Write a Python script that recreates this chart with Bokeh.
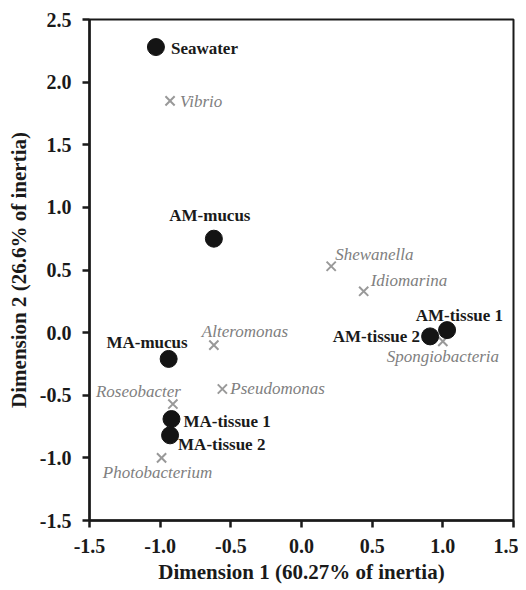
from bokeh.plotting import figure
from bokeh.models import ColumnDataSource, Range1d, FixedTicker
from bokeh.core.properties import value
from bokeh.embed import file_html
from bokeh.resources import INLINE

# Sample (row) coordinates
sample_names = ["Seawater", "AM-mucus", "MA-mucus", "MA-tissue 1", "MA-tissue 2", "AM-tissue 1", "AM-tissue 2"]
sample_dim1 = [-1.03, -0.62, -0.94, -0.92, -0.93, 1.03, 0.91]
sample_dim2 = [2.28, 0.75, -0.21, -0.69, -0.82, 0.02, -0.03]

# Taxon (column) coordinates
taxon_names = ["Vibrio", "Shewanella", "Idiomarina", "Spongiobacteria", "Alteromonas", "Pseudomonas", "Roseobacter", "Photobacterium"]
taxon_dim1 = [-0.93, 0.21, 0.44, 1.00, -0.62, -0.56, -0.91, -0.99]
taxon_dim2 = [1.85, 0.53, 0.33, -0.07, -0.10, -0.45, -0.57, -1.00]

x_ticks = [-1.5, -1.0, -0.5, 0.0, 0.5, 1.0, 1.5]
y_ticks = [-1.5, -1.0, -0.5, 0.0, 0.5, 1.0, 1.5, 2.0, 2.5]

# label placement (screen pixel offsets, alignment)
sample_xoff = [15, -4, 19, 12, 8, 56, -10]
sample_yoff = [1, -23, -16, 2, 9, -15, 0]
sample_align = ["left", "center", "right", "left", "left", "right", "right"]
taxon_xoff = [10, 4, 7, 0, -12, 8, 8, -4]
taxon_yoff = [1, -12, -11, 15, -14, 0, -13, 15]
taxon_align = ["left", "left", "left", "center", "left", "left", "right", "center"]

FONT = "Liberation Serif"
AXFONT = "'Liberation Serif', 'Times New Roman', serif"

p = figure(width=518, height=590, output_backend="svg", toolbar_location=None,
           x_range=Range1d(-1.5, 1.5), y_range=Range1d(-1.5, 2.5),
           min_border_left=89, min_border_right=5, min_border_top=19, min_border_bottom=70)
p.grid.visible = False
p.outline_line_color = "#1a1a1a"
p.outline_line_width = 2
p.background_fill_color = "white"
p.border_fill_color = "white"

for ax in (p.xaxis[0], p.yaxis[0]):
    ax.axis_line_width = 2.5
    ax.axis_line_color = "#1a1a1a"
    ax.major_tick_line_width = 2.5
    ax.major_tick_line_color = "#1a1a1a"
    ax.major_tick_out = 7
    ax.major_tick_in = 0
    ax.minor_tick_line_color = None
    ax.major_label_text_font = AXFONT
    ax.major_label_text_font_style = "bold"
    ax.major_label_text_font_size = "20px"
    ax.major_label_text_color = "#1a1a1a"
    ax.axis_label_text_font = AXFONT
    ax.axis_label_text_font_style = "bold"
    ax.axis_label_text_font_size = "21px"
    ax.axis_label_text_color = "#1a1a1a"

p.xaxis[0].ticker = FixedTicker(ticks=x_ticks)
p.yaxis[0].ticker = FixedTicker(ticks=y_ticks)
p.xaxis[0].major_label_overrides = {t: f"{t:.1f}" for t in x_ticks}
p.yaxis[0].major_label_overrides = {t: f"{t:.1f}" for t in y_ticks}
p.xaxis[0].axis_label = "Dimension 1 (60.27% of inertia)"
p.yaxis[0].axis_label = "Dimension 2 (26.6% of inertia)"
p.xaxis[0].major_label_standoff = 11
p.yaxis[0].major_label_standoff = 11
p.xaxis[0].axis_label_standoff = 4
p.yaxis[0].axis_label_standoff = 6

ssrc = ColumnDataSource(dict(x=sample_dim1, y=sample_dim2, name=sample_names,
                             xo=sample_xoff, yo=sample_yoff, al=sample_align))
tsrc = ColumnDataSource(dict(x=taxon_dim1, y=taxon_dim2, name=taxon_names,
                             xo=taxon_xoff, yo=taxon_yoff, al=taxon_align))

p.scatter("x", "y", source=tsrc, marker="x", size=13, line_width=2, line_color="#999999")
p.scatter("x", "y", source=ssrc, marker="circle", size=17, fill_color="#141414", line_color="#141414")

p.text("x", "y", text="name", source=ssrc, x_offset="xo", y_offset="yo", text_align="al",
       text_baseline="middle", text_font=value(FONT), text_font_style="bold",
       text_font_size="17px", text_color="#1a1a1a")
p.text("x", "y", text="name", source=tsrc, x_offset="xo", y_offset="yo", text_align="al",
       text_baseline="middle", text_font=value(FONT), text_font_style="italic",
       text_font_size="17px", text_color="#808080")

open("out.html", "w").write(file_html(p, INLINE))
